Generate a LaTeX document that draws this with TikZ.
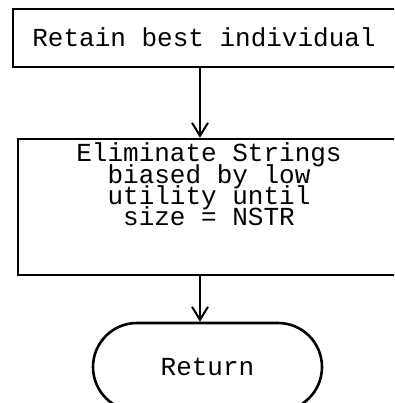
\documentclass[tikz,border=0pt]{standalone}
\usepackage{fontspec}
\setmainfont{Liberation Mono}
\usetikzlibrary{arrows.meta,shapes.misc}
% typewriter text with tight, fixed line spacing
\newcommand\flowfont{\fontsize{26}{21}\selectfont\lineskiplimit=-100pt\relax\lineskip=0pt\relax}
\tikzset{
  flowbox/.style={draw, line width=2.6pt, rectangle, inner sep=0pt},
  flowterm/.style={draw, line width=2.6pt, rounded rectangle,
    rounded rectangle arc length=180, inner sep=0pt},
  flowtext/.style={inner sep=0pt, align=center, font=\flowfont},
  flowarrow/.style={line width=2pt, -{Straight Barb[length=13pt,width=16pt,line width=2pt]}}
}
\begin{document}
\begin{tikzpicture}[x=1pt,y=-1pt]
  \useasboundingbox (0,0) rectangle (394,403);
  \clip (0,0) rectangle (394,403);
  % process boxes (they run past the right edge of the sheet)
  \node[flowbox, minimum width=397pt, minimum height=58pt] (keep) at (211.5,38) {};
  \node[flowbox, minimum width=392pt, minimum height=136pt] (cull) at (214,207) {};
  % terminal
  \node[flowterm, minimum width=229pt, minimum height=88pt, flowtext] (ret) at (207.5,367) {Return};
  % box texts
  \node[flowtext, anchor=base] (keeptext) at (204,47) {Retain best individual};
  \node[flowtext, anchor=base] (culltext) at (209,225) {Eliminate Strings\\biased by low\\utility until\\size = NSTR};
  % connectors
  \coordinate (spine) at (200,0);
  \draw[flowarrow] (keep.south -| spine) -- (cull.north -| spine);
  \draw[flowarrow] (cull.south -| spine) -- (ret.north -| spine);
\end{tikzpicture}
\end{document}
